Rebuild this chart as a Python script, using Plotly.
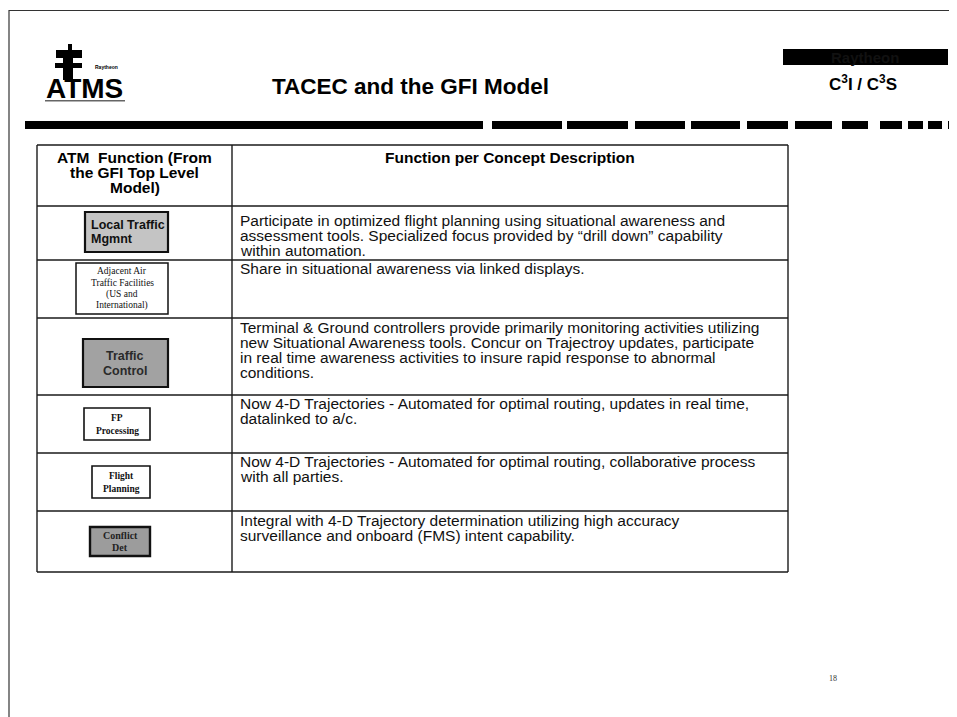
import plotly.graph_objects as go

W, H = 957, 717
OFF = 8  # browser body margin

# ---- content ----
title_text = "TACEC and the GFI Model"
brand_text = "Raytheon"
division_text = "C<sup>3</sup>I&nbsp;/&nbsp;C<sup>3</sup>S"
logo_text = "ATMS"
logo_small = "Raytheon"
page_number = "18"

header_left = ["ATM  Function (From", "the GFI Top Level", "Model)"]
header_right = ["Function per Concept Description"]

function_labels = [
    ["Local Traffic", "Mgmnt"],
    ["Adjacent Air", "Traffic Facilities", "(US and", "International)"],
    ["Traffic", "Control"],
    ["FP", "Processing"],
    ["Flight", "Planning"],
    ["Conflict", "Det"],
]

descriptions = [
    ["Participate in optimized flight planning using situational awareness and",
     "assessment tools. Specialized focus provided by \u201cdrill down\u201d capability",
     "within automation."],
    ["Share in situational awareness via linked displays."],
    ["Terminal & Ground controllers provide primarily monitoring activities utilizing",
     "new Situational Awareness tools. Concur on Trajectroy updates, participate",
     "in real time awareness activities to insure rapid response to abnormal",
     "conditions."],
    ["Now 4-D Trajectories - Automated for optimal routing, updates in real time,",
     "datalinked to a/c."],
    ["Now 4-D Trajectories - Automated for optimal routing, collaborative process",
     "with all parties."],
    ["Integral with 4-D Trajectory determination utilizing high accuracy",
     "surveillance and onboard (FMS) intent capability."],
]

# ---- layout (positions / styles) ----
row_edges = [145, 206, 260, 318, 395, 453, 511, 572]
first_line_y = [220, 268, 327, 403, 461, 520]
col_edges = [37, 232, 788]
line_step = 15
BODY = 15.5
HEAD = 15.5
SANS = "Liberation Sans, Arial, sans-serif"
SERIF = "Liberation Serif, Times New Roman, serif"

box_styles = [
    dict(x0=85, x1=168, y0=212, y1=252, fill="#c4c4c4", lw=2.2, font=SANS, size=12.5, bold=True, color="#111", cx=None, lx=89, step=14),
    dict(x0=76, x1=168, y0=263, y1=314, fill="#ffffff", lw=1.5, font=SERIF, size=9.5, bold=False, color="#111", cx=122, lx=None, step=11.5),
    dict(x0=83, x1=168, y0=339, y1=387, fill="#a2a2a2", lw=2.2, font=SANS, size=12.5, bold=True, color="#2a2a2a", cx=125, lx=None, step=15),
    dict(x0=84, x1=150, y0=408, y1=440, fill="#ffffff", lw=1.6, font=SERIF, size=9.5, bold=True, color="#111", cx=117, lx=None, step=13),
    dict(x0=92, x1=150, y0=466, y1=498, fill="#ffffff", lw=1.6, font=SERIF, size=9.5, bold=True, color="#111", cx=121, lx=None, step=13),
    dict(x0=90, x1=150, y0=527, y1=556, fill="#9c9c9c", lw=2.4, font=SERIF, size=10, bold=True, color="#222", cx=120, lx=None, step=12),
]

fig = go.Figure()
shapes = []
ann = []

def line(x0, y0, x1, y1, w=1.3, c="#1a1a1a"):
    shapes.append(dict(type="line", x0=x0, y0=y0, x1=x1, y1=y1, xref="x", yref="y",
                       line=dict(color=c, width=w)))

def rect(x0, y0, x1, y1, fill, lw=0, lc="#111"):
    shapes.append(dict(type="rect", x0=x0, y0=y0, x1=x1, y1=y1, xref="x", yref="y",
                       fillcolor=fill, line=dict(color=lc, width=lw)))

def text(x, y, s, size, family=SANS, color="#111", xanchor="center", bold=False):
    if bold:
        s = "<b>" + s + "</b>"
    ann.append(dict(x=x, y=y, xref="x", yref="y", text=s, showarrow=False,
                    xanchor=xanchor, yanchor="middle",
                    font=dict(family=family, size=size, color=color)))

# page border
line(9, 10.5, W, 10.5, w=1.2, c="#333")
line(9, 10, 9, H, w=1.2, c="#333")

# logo
rect(68, 44, 72, 50, "#000")
rect(56, 50, 82, 58, "#000")
rect(63, 58, 73, 80, "#000")
rect(55, 63, 82, 68, "#000")
text(84, 88, logo_text, 28, color="#000", bold=True)
text(106, 67, logo_small, 5, color="#000", bold=True)
rect(45, 100, 125, 101.5, "#666")

# title
text(410, 86, title_text, 22.5, color="#000", bold=True)

# brand blob
rect(783, 49, 948, 65, "#000")
text(865, 57, brand_text, 15, color="#111", bold=True)
text(863, 83, division_text, 17, color="#000", bold=True)

# thick rule with dashes
rect(25, 121, 483, 129, "#000")
dashes = [(492, 562), (567, 628), (635, 685), (691, 740), (747, 788), (795, 832),
          (842, 868), (880, 902), (908, 923), (928, 942), (948, 953)]
for a, b in dashes:
    rect(a, 121, b, 129, "#000")

# table grid
for y in row_edges:
    line(col_edges[0], y, col_edges[-1], y, w=1.5)
for x in col_edges:
    line(x, row_edges[0], x, row_edges[-1], w=1.4)

# header
for i, s in enumerate(header_left):
    text((col_edges[0] + col_edges[1]) / 2, row_edges[0] + 12 + i * line_step, s, HEAD, color="#000", bold=True)
for i, s in enumerate(header_right):
    text((col_edges[1] + col_edges[2]) / 2, row_edges[0] + 12 + i * line_step, s, HEAD, color="#000", bold=True)

# rows
for r, (labels, desc, st) in enumerate(zip(function_labels, descriptions, box_styles)):
    for i, s in enumerate(desc):
        text(col_edges[1] + 6, first_line_y[r] + i * line_step, s, BODY, color="#111", xanchor="left")
    rect(st["x0"], st["y0"], st["x1"], st["y1"], st["fill"], lw=st["lw"], lc="#111")
    n = len(labels)
    cy = (st["y0"] + st["y1"]) / 2
    for i, s in enumerate(labels):
        y = cy + (i - (n - 1) / 2) * st["step"]
        if st["lx"] is not None:
            text(st["lx"], y, s, st["size"], family=st["font"], color=st["color"], xanchor="left", bold=st["bold"])
        else:
            text(st["cx"], y, s, st["size"], family=st["font"], color=st["color"], bold=st["bold"])

# page number
text(833, 678, page_number, 8, family=SERIF, color="#333")

fig.update_layout(
    width=W - OFF, height=H - OFF, margin=dict(l=0, r=0, t=0, b=0),
    paper_bgcolor="white", plot_bgcolor="white",
    xaxis=dict(range=[OFF, W], visible=False, fixedrange=True),
    yaxis=dict(range=[H, OFF], visible=False, fixedrange=True),
    shapes=shapes, annotations=ann, showlegend=False,
)
fig.write_html("out.html", config={"displayModeBar": False})
